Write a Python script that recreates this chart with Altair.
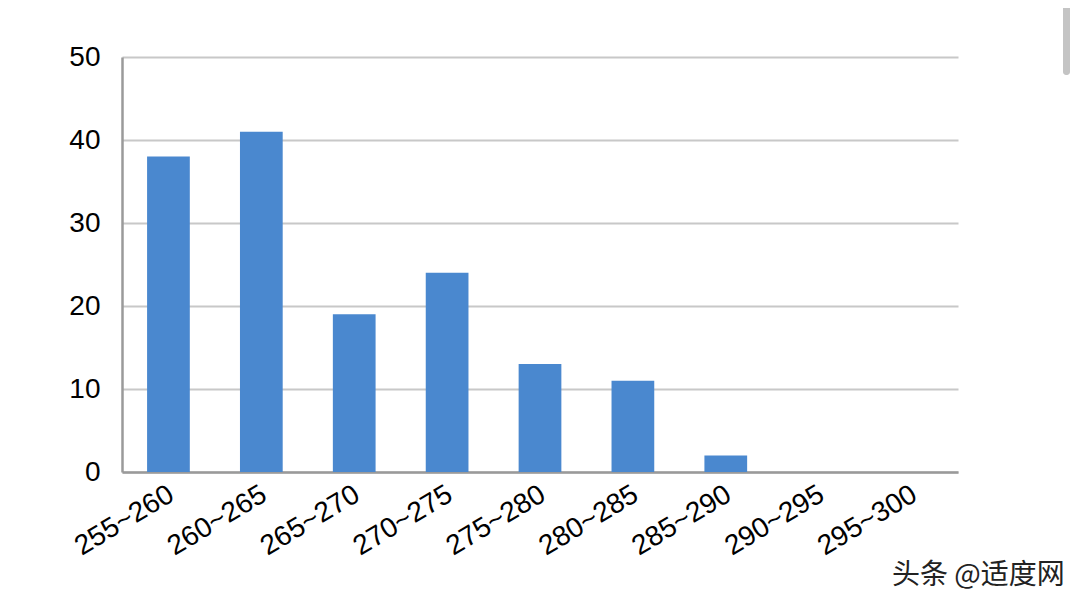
import altair as alt
import pandas as pd

categories = ["255~260", "260~265", "265~270", "270~275", "275~280",
              "280~285", "285~290", "290~295", "295~300"]
counts = [38, 41, 19, 24, 13, 11, 2, 0, 0]
y_ticks = [0, 10, 20, 30, 40, 50]
watermark = "头条 @适度网"

df = pd.DataFrame({"range": categories, "count": counts})

FONT = "Liberation Sans"

bars = alt.Chart(df).mark_bar(color="#4A88CF").encode(
    x=alt.X("range:N", sort=categories, title=None,
            scale=alt.Scale(paddingInner=0.54, paddingOuter=0.27),
            axis=alt.Axis(labelAngle=-31, labelAlign="right", labelBaseline="top",
                          labelFontSize=28, labelFont=FONT, labelColor="#000000",
                          labelPadding=8, labelOffset=-4, ticks=False,
                          domainColor="#9a9a9a", domainWidth=2.5, grid=False)),
    y=alt.Y("count:Q", title=None,
            scale=alt.Scale(domain=[0, 50], nice=False),
            axis=alt.Axis(values=y_ticks, labelFontSize=28, labelFont=FONT,
                          labelColor="#000000", labelPadding=22, ticks=False,
                          domainColor="#9a9a9a", domainWidth=2.5,
                          gridColor="#c8c8c8", gridWidth=2)),
)

wm = alt.Chart(pd.DataFrame({"t": [watermark]})).mark_text(
    align="left", baseline="middle", fontSize=28,
    font="Noto Sans CJK SC", color="#222222"
).encode(text="t:N", x=alt.value(770), y=alt.value(519))

scroll = alt.Chart(pd.DataFrame({"a": [0]})).mark_rect(
    color="#c4c4c4", cornerRadius=3
).encode(x=alt.value(941), x2=alt.value(948), y=alt.value(-57), y2=alt.value(18))

chart = alt.layer(bars, wm, scroll).properties(
    width=836, height=415, background="white",
    autosize=alt.AutoSizeParams(type="none"),
    padding={"left": 114, "top": 49, "right": 114, "bottom": 120},
).configure_view(stroke=None)

chart.save("out.html", embed_options={"renderer": "svg", "actions": False})
